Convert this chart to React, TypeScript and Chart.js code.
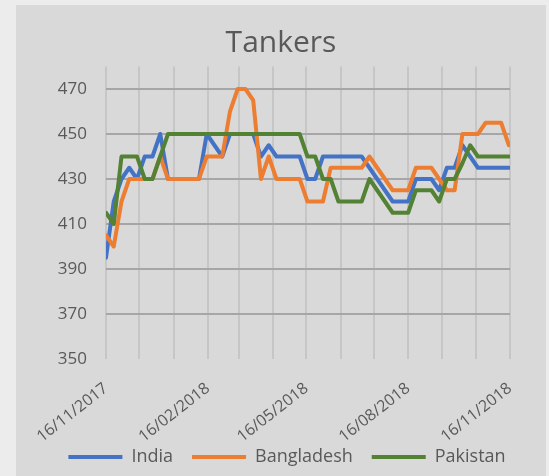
import React, { useEffect, useRef } from 'react';
import { Chart, registerables } from 'chart.js';

Chart.register(...registerables);

const chartTitle = 'Tankers';
const seriesNames = ['India', 'Bangladesh', 'Pakistan'];
const seriesColors = ['#4472c4', '#ed7d31', '#548235'];

// weekly observations starting 16/11/2017
const startDate = '2017-11-16';
const weekCount = 53;

const india = [
  395, 420, 430, 435, 430, 440, 440, 450, 430, 430, 430, 430, 430, 450, 445, 440,
  450, 450, 450, 450, 440, 445, 440, 440, 440, 440, 430, 430, 440, 440, 440, 440,
  440, 440, 435, 430, 425, 420, 420, 420, 430, 430, 430, 425, 435, 435, 445, 440,
  435, 435, 435, 435, 435,
];
const bangladesh = [
  405, 400, 420, 430, 430, 430, 430, 440, 430, 430, 430, 430, 430, 440, 440, 440,
  460, 470, 470, 465, 430, 440, 430, 430, 430, 430, 420, 420, 420, 435, 435, 435,
  435, 435, 440, 435, 430, 425, 425, 425, 435, 435, 435, 430, 425, 425, 450, 450,
  450, 455, 455, 455, 445,
];
const pakistan = [
  415, 410, 440, 440, 440, 430, 430, 440, 450, 450, 450, 450, 450, 450, 450, 450,
  450, 450, 450, 450, 450, 450, 450, 450, 450, 450, 440, 440, 430, 430, 420, 420,
  420, 420, 430, 425, 420, 415, 415, 415, 425, 425, 425, 420, 430, 430, 437, 445,
  440, 440, 440, 440, 440,
];

const monthTickDates = [
  '2017-11-16', '2017-12-16', '2018-01-16', '2018-02-16', '2018-03-16', '2018-04-16',
  '2018-05-16', '2018-06-16', '2018-07-16', '2018-08-16', '2018-09-16', '2018-10-16',
  '2018-11-16',
];
const labeledTicks = ['16/11/2017', '16/02/2018', '16/05/2018', '16/08/2018', '16/11/2018'];
const yTicks = [350, 370, 390, 410, 430, 450, 470];
const yMin = 350;
const yMax = 480;

const DAY = 86400000;
const t0 = Date.parse(startDate);
const dayOf = (iso: string) => Math.round((Date.parse(iso) - t0) / DAY);
const fmt = (iso: string) => {
  const [y, m, d] = iso.split('-');
  return `${d}/${m}/${y}`;
};
const monthDays = monthTickDates.map(dayOf);
const monthLabels: Record<number, string> = {};
monthTickDates.forEach((d) => {
  monthLabels[dayOf(d)] = fmt(d);
});
const weekDays = Array.from({ length: weekCount }, (_, i) => i * 7);

const FONT = "'Open Sans', 'Liberation Sans', sans-serif";
const TEXT = '#595959';

const legendShift = {
  id: 'legendShift',
  afterLayout(chart: any) {
    if (chart.legend) {
      chart.legend.left += 6;
      chart.legend.right += 6;
    }
  },
};

export default function App() {
  const ref = useRef<HTMLCanvasElement | null>(null);

  useEffect(() => {
    if (!ref.current) return;
    const all = [india, bangladesh, pakistan];
    const chart = new Chart(ref.current, {
      type: 'line',
      data: {
        datasets: all.map((vals, i) => ({
          label: seriesNames[i],
          data: vals.map((v, k) => ({ x: weekDays[k], y: v })),
          borderColor: seriesColors[i],
          backgroundColor: seriesColors[i],
          borderWidth: 4,
          pointRadius: 0,
          tension: 0,
          borderJoinStyle: 'round',
          borderCapStyle: 'round',
          order: all.length - 1 - i,
        })),
      },
      plugins: [legendShift],
      options: {
        responsive: false,
        animation: false,
        devicePixelRatio: 1,
        layout: { padding: 0 },
        plugins: {
          title: {
            display: true,
            text: chartTitle,
            color: TEXT,
            font: { family: FONT, size: 30, weight: 'normal' },
            padding: { top: 20, bottom: 5.5 },
          },
          legend: {
            display: true,
            position: 'bottom',
            labels: {
              boxWidth: 54,
              boxHeight: 4,
              padding: 19,
              color: TEXT,
              font: { family: FONT, size: 18 },
              sort: (a: any, b: any) => a.datasetIndex - b.datasetIndex,
              generateLabels: (c: any) =>
                Chart.defaults.plugins.legend.labels
                  .generateLabels(c)
                  .map((l: any) => ({ ...l, lineWidth: 0 })),
            },
          },
          tooltip: { enabled: false },
        },
        scales: {
          x: {
            type: 'linear',
            min: 0,
            max: 365,
            afterBuildTicks: (s: any) => {
              s.ticks = monthDays.map((v) => ({ value: v }));
            },
            afterFit: (s: any) => {
              s.height = 70;
              s._computeLabelArea = () => undefined;
            },
            ticks: {
              autoSkip: false,
              minRotation: 38,
              maxRotation: 38,
              padding: 20,
              color: TEXT,
              font: { family: FONT, size: 16 },
              callback: (v: any) => {
                const l = monthLabels[v];
                return l && labeledTicks.includes(l) ? l : '';
              },
            },
            grid: { color: '#c6c6c6', lineWidth: 2, drawTicks: false },
            border: { display: false },
          },
          y: {
            type: 'linear',
            min: yMin,
            max: yMax,
            afterBuildTicks: (s: any) => {
              s.ticks = yTicks.map((v) => ({ value: v }));
            },
            afterFit: (s: any) => {
              s.width = 90;
            },
            ticks: {
              padding: 19,
              color: TEXT,
              font: { family: FONT, size: 17 },
            },
            grid: {
              drawTicks: false,
              lineWidth: 2,
              color: (ctx: any) => (ctx.tick && ctx.tick.value === yMin ? 'rgba(0,0,0,0)' : '#a6a6a6'),
            },
            border: { display: false },
          },
          yRight: {
            type: 'linear',
            position: 'right',
            display: true,
            afterFit: (s: any) => {
              s.width = 36;
            },
            ticks: { display: false },
            grid: { display: false, drawTicks: false },
            border: { display: false },
          },
        },
      },
    } as any);
    return () => chart.destroy();
  }, []);

  return (
    <div style={{ position: 'fixed', inset: 0, background: '#ececec' }}>
      <div
        style={{
          position: 'absolute',
          left: 16,
          top: 5,
          width: 530,
          height: 471,
          background: '#d9d9d9',
        }}
      >
        <canvas ref={ref} width={530} height={471} style={{ display: 'block' }} />
      </div>
    </div>
  );
}
